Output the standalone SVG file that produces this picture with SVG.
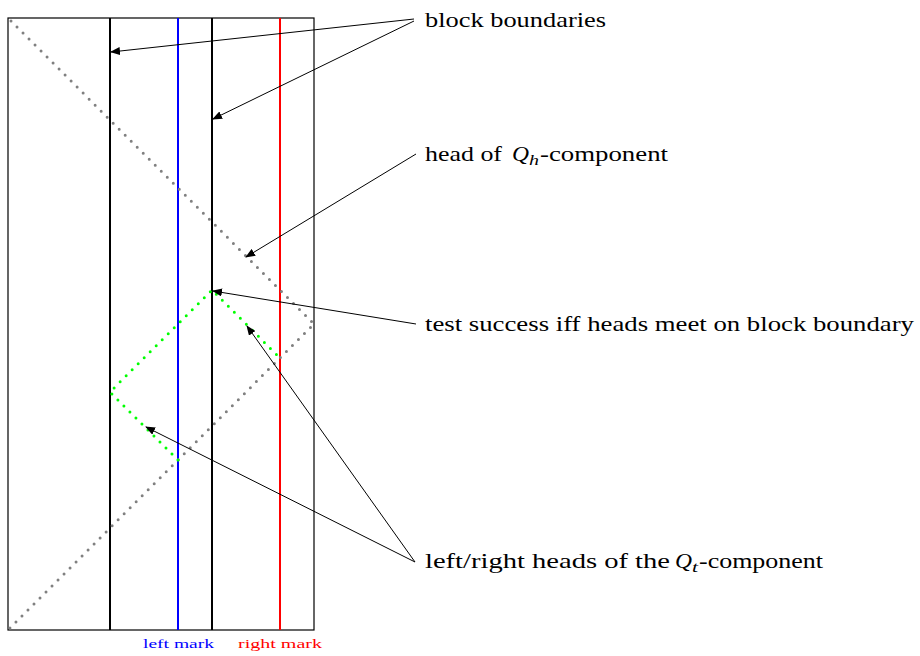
<svg xmlns="http://www.w3.org/2000/svg" width="920" height="656" viewBox="0 0 920 656">
<style>
.lbl{font-family:"Liberation Serif","DejaVu Serif",serif;font-size:22px;fill:#000}
.it{font-style:italic}
.sub{font-style:italic;font-size:15px}
.mk{font-family:"Liberation Serif","DejaVu Serif",serif;font-size:12.5px}
.vb{stroke:#000;stroke-width:2;fill:none}
.gray{stroke:#808080;stroke-width:3;fill:none;stroke-dasharray:0 8.5;stroke-linecap:round}
.green{stroke:#00ff00;stroke-width:3;fill:none;stroke-dasharray:0 8.5;stroke-linecap:round}
.arr{stroke:#000;stroke-width:1;fill:none;marker-end:url(#ah)}
</style>
<defs>
<marker id="ah" viewBox="0 0 10 8" refX="9" refY="4" markerWidth="10" markerHeight="8" markerUnits="userSpaceOnUse" orient="auto">
<path d="M0,0 L10,4 L0,8 Z" fill="#000"/>
</marker>
</defs>
<rect width="920" height="656" fill="#fff"/>
<g id="frame">
<rect x="8" y="18" width="306" height="612" fill="none" stroke="#000" stroke-width="1.2"/>
</g>
<g id="block-boundary-1"><line class="vb" x1="110" y1="18" x2="110" y2="630"/></g>
<g id="left-mark"><line x1="178" y1="18" x2="178" y2="630" stroke="#0000ff" stroke-width="2"/>
<text class="mk" x="143" y="648" fill="#0000ff" textLength="71" lengthAdjust="spacingAndGlyphs">left mark</text></g>
<g id="block-boundary-2"><line class="vb" x1="212" y1="18" x2="212" y2="630"/></g>
<g id="right-mark"><line x1="280" y1="18" x2="280" y2="630" stroke="#ff0000" stroke-width="2"/>
<text class="mk" x="238" y="648" fill="#ff0000" textLength="84" lengthAdjust="spacingAndGlyphs">right mark</text></g>
<g id="qh-path"><polyline class="gray" points="11,21 314,324 8,630"/></g>
<g id="qt-path"><polyline class="green" points="178,460 110,392 212,290 280,358"/></g>
<g id="label-block"><text class="lbl" x="425" y="27" textLength="181" lengthAdjust="spacingAndGlyphs">block boundaries</text></g>
<g id="label-head">
<text class="lbl" x="425" y="161" textLength="77" lengthAdjust="spacingAndGlyphs">head of</text>
<text class="lbl it" x="512" y="161" textLength="17" lengthAdjust="spacingAndGlyphs">Q</text>
<text class="lbl sub" x="529" y="165" textLength="10" lengthAdjust="spacingAndGlyphs">h</text>
<text class="lbl" x="540" y="161" textLength="128" lengthAdjust="spacingAndGlyphs">-component</text>
</g>
<g id="label-test"><text class="lbl" x="425" y="331" textLength="489" lengthAdjust="spacingAndGlyphs">test success iff heads meet on block boundary</text></g>
<g id="label-lr">
<text class="lbl" x="425" y="568" textLength="245" lengthAdjust="spacingAndGlyphs">left/right heads of the</text>
<text class="lbl it" x="675" y="568" textLength="17" lengthAdjust="spacingAndGlyphs">Q</text>
<text class="lbl sub" x="692" y="572" textLength="6" lengthAdjust="spacingAndGlyphs">t</text>
<text class="lbl" x="699" y="568" textLength="124" lengthAdjust="spacingAndGlyphs">-component</text>
</g>
<g id="connectors">
<line class="arr" x1="414" y1="19" x2="111" y2="52"/>
<line class="arr" x1="414" y1="21" x2="213" y2="119"/>
<line class="arr" x1="416" y1="154" x2="246" y2="257"/>
<line class="arr" x1="416" y1="324" x2="213" y2="291"/>
<line class="arr" x1="415" y1="562" x2="146" y2="427"/>
<line class="arr" x1="415" y1="562" x2="247" y2="326"/>
</g>
</svg>
